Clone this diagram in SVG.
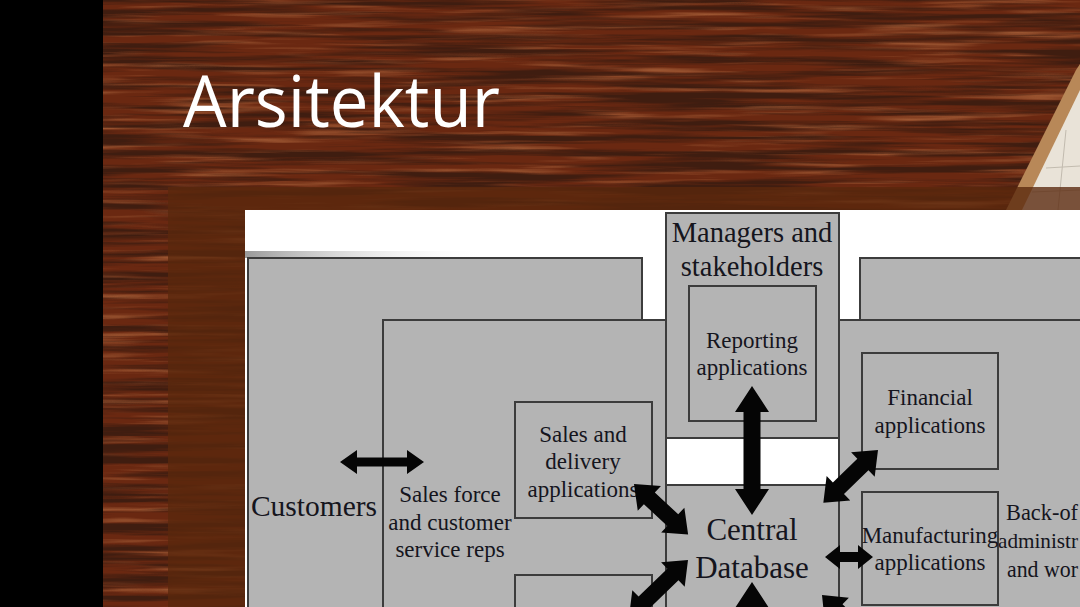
<svg xmlns="http://www.w3.org/2000/svg" width="1080" height="607" viewBox="0 0 1080 607">
  <style>
    .box { fill: #b4b4b4; stroke: #3c3c3c; stroke-width: 2; }
    .lbl { font-family: "Liberation Serif", "Times New Roman", serif; fill: #15151d; text-anchor: middle; }
    .frag { font-family: "Liberation Serif", "Times New Roman", serif; fill: #15151d; }
    .arrow { fill: #050505; }
  </style>
  <defs>
    <filter id="grainDark" x="103" y="0" width="977" height="607" filterUnits="userSpaceOnUse">
      <feTurbulence type="fractalNoise" baseFrequency="0.005 0.14" numOctaves="4" seed="7"/>
      <feColorMatrix type="matrix" values="0 0 0 0 0.05  0 0 0 0 0.012  0 0 0 0 0.005  3.6 0 0 0 -1.45"/>
    </filter>
    <filter id="grainLight" x="103" y="0" width="977" height="607" filterUnits="userSpaceOnUse">
      <feTurbulence type="fractalNoise" baseFrequency="0.007 0.16" numOctaves="3" seed="21"/>
      <feColorMatrix type="matrix" values="0 0 0 0 0.60  0 0 0 0 0.22  0 0 0 0 0.08  0 1.6 0 0 -0.8"/>
    </filter>
    <linearGradient id="shade" x1="0" y1="0" x2="1" y2="0">
      <stop offset="0" stop-color="#9a9a9a"/>
      <stop offset="1" stop-color="#ffffff" stop-opacity="0"/>
    </linearGradient>
    <clipPath id="imgClip">
      <rect x="245" y="210" width="835" height="397"/>
    </clipPath>
  </defs>

  <!-- slide background -->
  <rect x="0" y="0" width="1080" height="607" fill="#000"/>
  <rect x="103" y="0" width="977" height="607" fill="#6a2811"/>
  <rect x="103" y="0" width="977" height="607" filter="url(#grainLight)"/>
  <rect x="103" y="0" width="977" height="607" filter="url(#grainDark)"/>

  <!-- notebook corner -->
  <polygon points="1076,70 1080,64 1080,210 1006,210" fill="#b88858"/>
  <polygon points="1080,90 1080,210 1022,210" fill="#e9e3d8"/>
  <g stroke="#c2bbaf" stroke-width="1">
    <line x1="1046" y1="168" x2="1080" y2="166"/>
    <line x1="1032" y1="192" x2="1080" y2="190"/>
    <line x1="1066" y1="130" x2="1058" y2="210"/>
  </g>

  <!-- translucent panel -->
  <rect x="168" y="187" width="912" height="420" fill="#5a280d" opacity="0.78"/>

  <!-- title -->
  <text x="183" y="127" font-family="'Open Sans', 'Noto Sans', 'Liberation Sans', sans-serif" font-size="72" fill="#ffffff" textLength="317" lengthAdjust="spacingAndGlyphs">Arsitektur</text>

  <!-- diagram picture -->
  <g clip-path="url(#imgClip)">
    <rect x="245" y="210" width="835" height="397" fill="#ffffff"/>
    <rect x="245" y="251" width="240" height="7" fill="url(#shade)"/>

    <g id="customers">
      <rect class="box" x="248" y="258" width="394" height="360"/>
      <text class="lbl" x="314" y="516" font-size="29.5">Customers</text>
    </g>
    <g id="sales-force">
      <rect class="box" x="383" y="320" width="283" height="300"/>
      <text class="lbl" x="450" y="502" font-size="23">Sales force</text>
      <text class="lbl" x="450" y="530" font-size="23">and customer</text>
      <text class="lbl" x="450" y="557" font-size="23">service reps</text>
    </g>
    <g id="sales-delivery">
      <rect class="box" x="515" y="402" width="137" height="116"/>
      <text class="lbl" x="583" y="442" font-size="23">Sales and</text>
      <text class="lbl" x="583" y="469" font-size="23">delivery</text>
      <text class="lbl" x="583" y="497" font-size="23">applications</text>
    </g>
    <g id="lower-app">
      <rect class="box" x="515" y="575" width="137" height="50"/>
    </g>
    <g id="managers">
      <rect class="box" x="666" y="213" width="173" height="225"/>
      <text class="lbl" x="752" y="242" font-size="28.5">Managers and</text>
      <text class="lbl" x="752" y="276" font-size="28.5">stakeholders</text>
    </g>
    <g id="reporting">
      <rect class="box" x="689" y="286" width="127" height="135"/>
      <text class="lbl" x="752" y="348" font-size="23">Reporting</text>
      <text class="lbl" x="752" y="375" font-size="23">applications</text>
    </g>
    <g id="central-db">
      <rect class="box" x="666" y="485" width="173" height="140"/>
      <text class="lbl" x="752" y="540" font-size="31">Central</text>
      <text class="lbl" x="752" y="578" font-size="31">Database</text>
    </g>
    <g id="back-rear">
      <rect class="box" x="860" y="258" width="240" height="80"/>
    </g>
    <g id="back-office">
      <rect class="box" x="839" y="320" width="260" height="300"/>
      <text class="frag" x="1006" y="520" font-size="23" textLength="72" lengthAdjust="spacingAndGlyphs">Back-of</text>
      <text class="frag" x="998" y="548" font-size="21.5" textLength="80" lengthAdjust="spacingAndGlyphs">administr</text>
      <text class="frag" x="1007" y="577" font-size="23" textLength="71" lengthAdjust="spacingAndGlyphs">and wor</text>
    </g>
    <g id="financial">
      <rect class="box" x="862" y="353" width="136" height="116"/>
      <text class="lbl" x="930" y="405" font-size="23">Financial</text>
      <text class="lbl" x="930" y="433" font-size="23">applications</text>
    </g>
    <g id="manufacturing">
      <rect class="box" x="862" y="492" width="136" height="113"/>
      <text class="lbl" x="930" y="543" font-size="23">Manufacturing</text>
      <text class="lbl" x="930" y="570" font-size="23">applications</text>
    </g>

    <g id="connectors">
      <polygon class="arrow" transform="translate(340,462)" points="0,0 17,-12 17,-4.5 67,-4.5 67,-12 84,0 67,12 67,4.5 17,4.5 17,12"/>
      <polygon class="arrow" transform="translate(752,386) rotate(90)" points="0,0 26,-17 26,-8.5 103,-8.5 103,-17 129,0 103,17 103,8.5 26,8.5 26,17"/>
      <polygon class="arrow" transform="translate(634,484) rotate(43)" points="0,0 21,-17 21,-8 53,-8 53,-17 74,0 53,17 53,8 21,8 21,17"/>
      <polygon class="arrow" transform="translate(688,560) rotate(136)" points="0,0 21,-17 21,-8 61,-8 61,-17 82,0 61,17 61,8 21,8 21,17"/>
      <polygon class="arrow" transform="translate(878,450) rotate(136)" points="0,0 21,-17 21,-8 55,-8 55,-17 76,0 55,17 55,8 21,8 21,17"/>
      <polygon class="arrow" transform="translate(825,557)" points="0,0 15,-12 15,-5 33,-5 33,-12 48,0 33,12 33,5 15,5 15,12"/>
      <polygon class="arrow" transform="translate(752,582) rotate(90)" points="0,0 26,-17 26,-8.5 103,-8.5 103,-17 129,0 103,17 103,8.5 26,8.5 26,17"/>
      <polygon class="arrow" transform="translate(822,595) rotate(45)" points="0,0 21,-17 21,-8 59,-8 59,-17 80,0 59,17 59,8 21,8 21,17"/>
    </g>
  </g>
</svg>
